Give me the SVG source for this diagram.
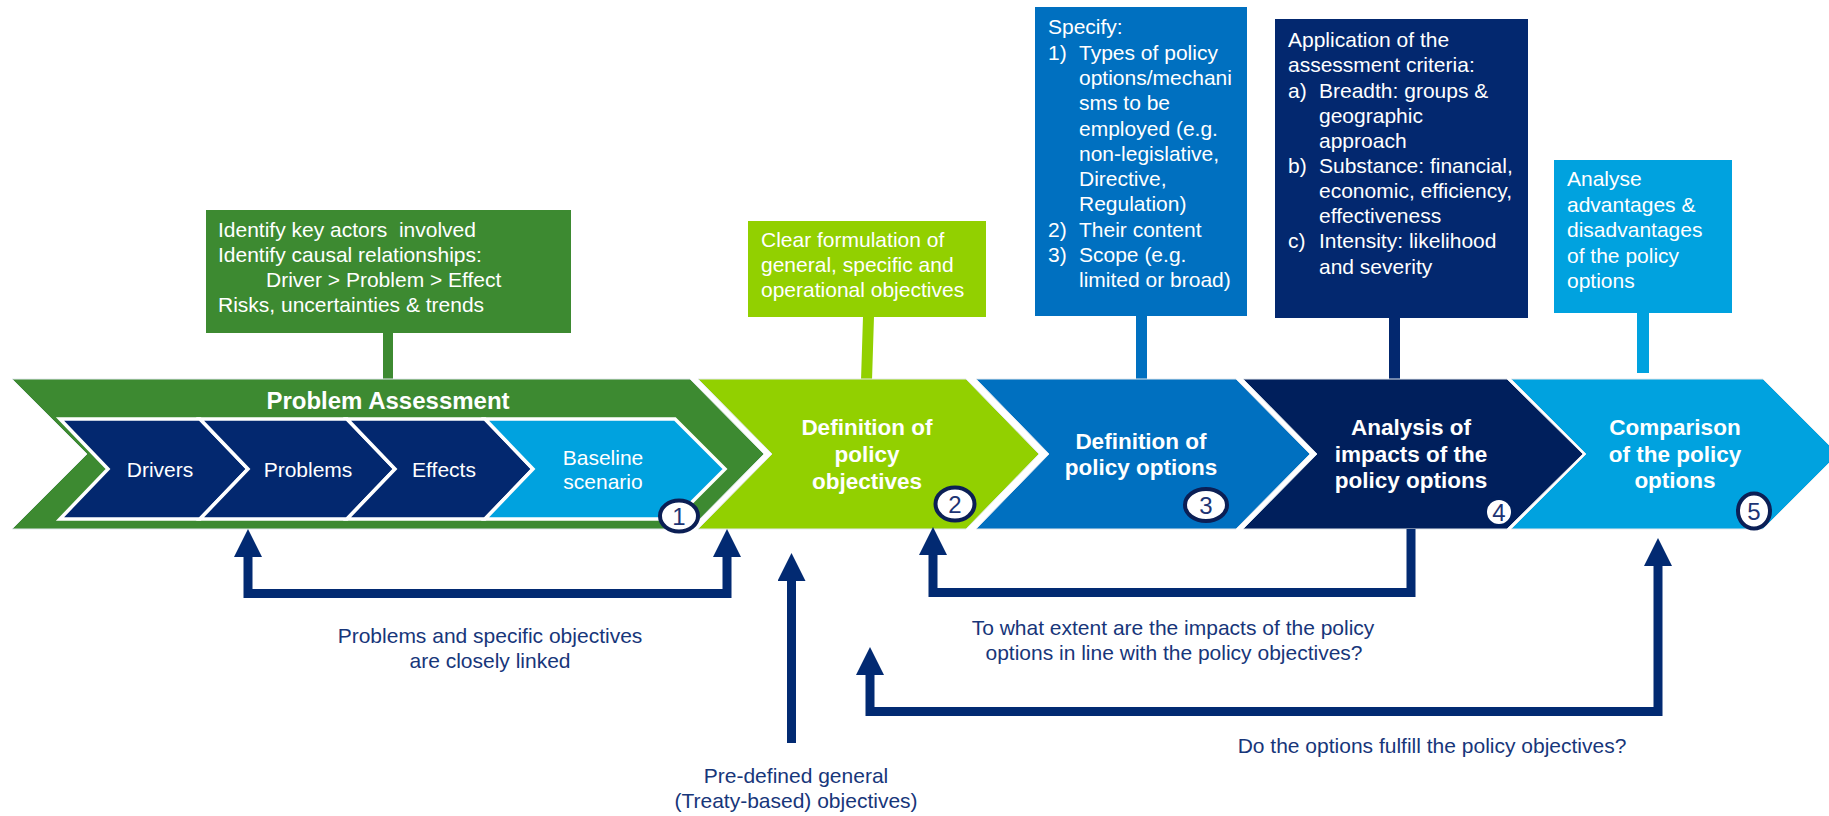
<svg xmlns="http://www.w3.org/2000/svg" width="1829" height="816" viewBox="0 0 1829 816">
  <style>
    text { font-family: "Liberation Sans", Arial, sans-serif; }
    .w { fill: #ffffff; font-size: 21px; }
    .wb { fill: #ffffff; font-size: 22.5px; font-weight: bold; text-anchor: middle; }
    .mid { text-anchor: middle; }
    .note { fill: #17367a; font-size: 21px; text-anchor: middle; }
    .num { fill: #1c3474; font-size: 24px; text-anchor: middle; }
    .badge { fill: #ffffff; stroke: #0b1f55; stroke-width: 4; }
    .inner { stroke: #ffffff; stroke-width: 3.5; stroke-linejoin: miter; }
    .chev { stroke: #e4e9ee; stroke-width: 1; }
    .link { fill: none; stroke: #022a72; stroke-width: 9; stroke-linejoin: miter; }
  </style>
  <defs>
    <marker id="head" viewBox="0 -14 28 28" refX="0" refY="0" markerWidth="28" markerHeight="28" markerUnits="userSpaceOnUse" orient="auto-start-reverse">
      <path d="M0,-14 L28,0 L0,14 Z" fill="#022a72"/>
    </marker>
  </defs>

  <!-- Step 1: Problem Assessment -->
  <g id="step1">
    <rect x="383" y="332" width="10" height="48" fill="#3d8a31"/>
    <rect x="206" y="210" width="365" height="123" fill="#3d8a31"/>
    <text class="w" x="218" y="237" style="white-space:pre">Identify key actors  involved</text>
    <text class="w" x="218" y="262">Identify causal relationships:</text>
    <text class="w" x="266" y="287">Driver &gt; Problem &gt; Effect</text>
    <text class="w" x="218" y="312">Risks, uncertainties &amp; trends</text>
    <polygon class="chev" points="12,379 690,379 764,454 690,529 12,529 87,454" fill="#3d8a31"/>
    <text class="wb" x="388" y="409" style="font-size:24px">Problem Assessment</text>
    <g id="drivers">
      <polygon class="inner" points="60,419 200,419 248,469 200,519 60,519 108,469" fill="#03286f"/>
      <text class="w mid" x="160" y="477">Drivers</text>
    </g>
    <g id="problems">
      <polygon class="inner" points="200,419 347,419 395,469 347,519 200,519 248,469" fill="#03286f"/>
      <text class="w mid" x="308" y="477">Problems</text>
    </g>
    <g id="effects">
      <polygon class="inner" points="347,419 485,419 533,469 485,519 347,519 395,469" fill="#03286f"/>
      <text class="w mid" x="444" y="477">Effects</text>
    </g>
    <g id="baseline">
      <polygon class="inner" points="485,419 675,419 725,469 675,519 485,519 533,469" fill="#00a2df"/>
      <text class="w mid" x="603" y="465">Baseline</text>
      <text class="w mid" x="603" y="489">scenario</text>
    </g>
    <ellipse class="badge" cx="679" cy="516" rx="19" ry="15.5"/>
    <text class="num" x="679" y="525">1</text>
  </g>

  <!-- Step 2: Definition of policy objectives -->
  <g id="step2">
    <polygon points="863,316 874,316 872,380 861,380" fill="#92d000"/>
    <rect x="748" y="221" width="238" height="96" fill="#92d000"/>
    <text class="w" x="761" y="247">Clear formulation of</text>
    <text class="w" x="761" y="272">general, specific and</text>
    <text class="w" x="761" y="297">operational objectives</text>
    <polygon class="chev" points="698,379 966,379 1039,454 966,529 698,529 772,454" fill="#92d000"/>
    <text class="wb" x="867" y="435">Definition of</text>
    <text class="wb" x="867" y="462">policy</text>
    <text class="wb" x="867" y="489">objectives</text>
    <ellipse class="badge" cx="955" cy="504" rx="19.5" ry="16.5"/>
    <text class="num" x="955" y="513">2</text>
  </g>

  <!-- Step 3: Definition of policy options -->
  <g id="step3">
    <rect x="1136" y="315" width="11" height="65" fill="#0070c0"/>
    <rect x="1035" y="7" width="212" height="309" fill="#0070c0"/>
    <text class="w" x="1048" y="34">Specify:</text>
    <text class="w" x="1048" y="59.5">1)</text>
    <text class="w" x="1079" y="59.5">Types of policy</text>
    <text class="w" x="1079" y="85">options/mechani</text>
    <text class="w" x="1079" y="110">sms to be</text>
    <text class="w" x="1079" y="135.5">employed (e.g.</text>
    <text class="w" x="1079" y="161">non-legislative,</text>
    <text class="w" x="1079" y="186">Directive,</text>
    <text class="w" x="1079" y="211">Regulation)</text>
    <text class="w" x="1048" y="236.5">2)</text>
    <text class="w" x="1079" y="236.5">Their content</text>
    <text class="w" x="1048" y="262">3)</text>
    <text class="w" x="1079" y="262">Scope (e.g.</text>
    <text class="w" x="1079" y="287">limited or broad)</text>
    <polygon class="chev" points="976,379 1236,379 1310,454 1236,529 976,529 1049,454" fill="#0070c0"/>
    <text class="wb" x="1141" y="449">Definition of</text>
    <text class="wb" x="1141" y="475">policy options</text>
    <ellipse class="badge" cx="1206" cy="505" rx="21" ry="16"/>
    <text class="num" x="1206" y="514">3</text>
  </g>

  <!-- Step 4: Analysis of impacts -->
  <g id="step4">
    <rect x="1389" y="317" width="11" height="63" fill="#03286f"/>
    <rect x="1275" y="19" width="253" height="299" fill="#03286f"/>
    <text class="w" x="1288" y="47">Application of the</text>
    <text class="w" x="1288" y="72">assessment criteria:</text>
    <text class="w" x="1288" y="97.5">a)</text>
    <text class="w" x="1319" y="97.5">Breadth: groups &amp;</text>
    <text class="w" x="1319" y="122.5">geographic</text>
    <text class="w" x="1319" y="147.5">approach</text>
    <text class="w" x="1288" y="172.5">b)</text>
    <text class="w" x="1319" y="172.5">Substance: financial,</text>
    <text class="w" x="1319" y="198">economic, efficiency,</text>
    <text class="w" x="1319" y="223">effectiveness</text>
    <text class="w" x="1288" y="248">c)</text>
    <text class="w" x="1319" y="248">Intensity: likelihood</text>
    <text class="w" x="1319" y="273.5">and severity</text>
    <polygon class="chev" points="1243,379 1507,379 1583,454 1507,529 1243,529 1317,454" fill="#001f5c"/>
    <text class="wb" x="1411" y="435">Analysis of</text>
    <text class="wb" x="1411" y="462">impacts of the</text>
    <text class="wb" x="1411" y="488">policy options</text>
    <ellipse class="badge" cx="1499" cy="512" rx="14" ry="14" style="stroke:#001f5c"/>
    <text class="num" x="1499" y="521">4</text>
  </g>

  <!-- Step 5: Comparison of the policy options -->
  <g id="step5">
    <rect x="1637" y="312" width="12" height="61" fill="#00a2df"/>
    <rect x="1554" y="160" width="178" height="153" fill="#00a2df"/>
    <text class="w" x="1567" y="186">Analyse</text>
    <text class="w" x="1567" y="212">advantages &amp;</text>
    <text class="w" x="1567" y="237">disadvantages</text>
    <text class="w" x="1567" y="263">of the policy</text>
    <text class="w" x="1567" y="288">options</text>
    <polygon class="chev" points="1511,379 1763,379 1838,454 1763,529 1511,529 1586,454" fill="#00a2df"/>
    <text class="wb" x="1675" y="435">Comparison</text>
    <text class="wb" x="1675" y="462">of the policy</text>
    <text class="wb" x="1675" y="488">options</text>
    <ellipse class="badge" cx="1754" cy="511" rx="16" ry="17.5"/>
    <text class="num" x="1754" y="520">5</text>
  </g>

  <!-- Feedback loops between the steps -->
  <g id="connectors">
    <path class="link" d="M248,557 V593.5 H727 V557" marker-start="url(#head)" marker-end="url(#head)"/>
    <path class="link" d="M791.5,743 V581" marker-end="url(#head)"/>
    <path class="link" d="M1411,529 V592.5 H933 V555" marker-end="url(#head)"/>
    <path class="link" d="M1658,566 V711.5 H870 V675" marker-start="url(#head)" marker-end="url(#head)"/>
  </g>

  <g id="labels">
    <text class="note" x="490" y="643">Problems and specific objectives</text>
    <text class="note" x="490" y="668">are closely linked</text>
    <text class="note" x="796" y="783">Pre-defined general</text>
    <text class="note" x="796" y="808">(Treaty-based) objectives)</text>
    <text class="note" x="1173" y="635">To what extent are the impacts of the policy</text>
    <text class="note" x="1174" y="660">options in line with the policy objectives?</text>
    <text class="note" x="1432" y="753">Do the options fulfill the policy objectives?</text>
  </g>
</svg>
